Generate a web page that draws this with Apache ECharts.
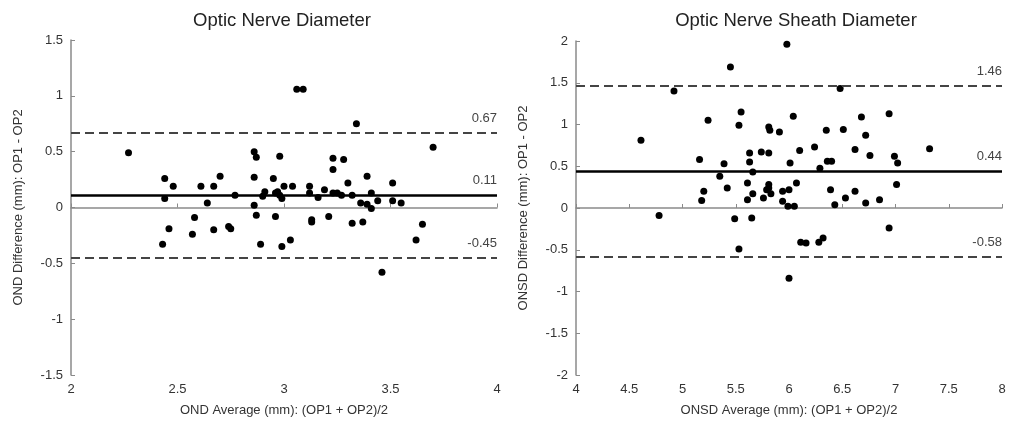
<!DOCTYPE html>
<html>
<head>
<meta charset="utf-8">
<script src="https://cdn.jsdelivr.net/npm/echarts@6/dist/echarts.min.js"></script>
<style>html,body{margin:0;padding:0;background:#fff}#c{width:1011px;height:428px}</style>
</head>
<body>
<div id="c"></div>
<script>
var titles = ['Optic Nerve Diameter', 'Optic Nerve Sheath Diameter'];
var xNames = ['OND Average (mm): (OP1 + OP2)/2', 'ONSD Average (mm): (OP1 + OP2)/2'];
var yNames = ['OND Difference (mm): OP1 - OP2', 'ONSD Difference (mm): OP1 - OP2'];

var ondAvg = [2.27,2.44,2.44,2.48,2.61,2.64,2.67,2.70,2.77,2.86,2.87,2.86,2.86,2.90,2.91,2.95,2.98,2.96,2.97,2.98,2.99,3.00,
  2.58,2.46,2.57,2.67,2.74,2.75,2.43,2.87,2.89,2.96,2.99,3.03,3.06,3.09,3.34,3.70,3.23,3.28,3.23,3.39,3.30,3.51,
  3.04,3.12,3.19,3.12,3.16,3.23,3.25,3.27,3.32,3.41,3.36,3.39,3.41,3.44,3.51,3.55,3.13,3.13,3.21,3.32,3.37,3.46,3.62,3.65];
var ondDiff = [0.49,0.26,0.08,0.19,0.19,0.04,0.19,0.28,0.11,0.50,0.45,0.27,0.02,0.10,0.14,0.26,0.46,0.13,0.14,0.11,0.08,0.19,
  -0.09,-0.19,-0.24,-0.20,-0.17,-0.19,-0.33,-0.07,-0.33,-0.08,-0.35,-0.29,1.06,1.06,0.75,0.54,0.44,0.43,0.34,0.28,0.22,0.22,
  0.19,0.19,0.16,0.13,0.09,0.13,0.13,0.11,0.11,0.13,0.04,0.03,-0.01,0.06,0.06,0.04,-0.11,-0.13,-0.08,-0.14,-0.13,-0.58,-0.29,-0.15];

var onsdAvg = [4.61,4.78,4.92,5.18,5.20,5.16,5.24,5.35,5.39,5.42,5.45,5.49,5.53,5.53,5.55,5.61,5.61,5.63,5.63,5.65,5.66,5.66,
  5.74,5.76,5.79,5.81,5.81,5.81,5.81,5.82,5.83,5.91,5.94,5.94,5.98,5.99,6.00,6.00,6.01,6.04,6.05,6.07,6.10,6.11,6.16,
  6.24,6.28,6.29,6.32,6.35,6.36,6.40,6.39,6.43,6.48,6.51,6.53,6.62,6.62,6.68,6.72,6.72,6.76,6.85,6.94,6.94,6.99,7.01,7.02,7.32];
var onsdDiff = [0.81,-0.09,1.40,0.09,0.20,0.58,1.05,0.38,0.53,0.24,1.69,-0.13,-0.49,0.99,1.15,0.30,0.10,0.66,0.55,-0.12,0.43,0.17,
  0.67,0.12,0.22,0.24,0.28,0.66,0.97,0.93,0.17,0.91,0.20,0.08,1.96,0.02,0.22,-0.84,0.54,1.10,0.02,0.30,0.69,-0.41,-0.42,
  0.73,-0.41,0.475,-0.36,0.93,0.56,0.56,0.22,0.04,1.43,0.94,0.12,0.70,0.20,1.09,0.87,0.06,0.63,0.10,1.13,-0.24,0.62,0.28,0.54,0.71];

var ondLines = [0.67, 0.11, -0.45];
var onsdLines = [1.46, 0.44, -0.58];

var xRanges = [[2, 4, 0.5], [4, 8, 0.5]];
var yRanges = [[-1.5, 1.5, 0.5], [-2, 2, 0.5]];

function pairs(xs, ys) { return xs.map(function (v, i) { return [v, ys[i]]; }); }

var FONT = 'Liberation Sans, Arial, sans-serif';
var axisGray = '#8a8a8a';
var textCol = '#333';

function xAxis(i) {
  return {
    type: 'value', gridIndex: i, min: xRanges[i][0], max: xRanges[i][1], interval: xRanges[i][2],
    name: xNames[i], nameLocation: 'middle', nameGap: 29,
    nameTextStyle: { fontFamily: FONT, fontSize: 13, color: textCol },
    axisLine: { show: true, lineStyle: { color: axisGray, width: 1.5 } },
    axisTick: { show: true, inside: true, length: 4, lineStyle: { color: axisGray } },
    axisLabel: { fontFamily: FONT, fontSize: 13, color: textCol, margin: 8 },
    splitLine: { show: false }
  };
}
function yAxis(i) {
  return {
    type: 'value', gridIndex: i, min: yRanges[i][0], max: yRanges[i][1], interval: yRanges[i][2],
    name: yNames[i], nameLocation: 'middle', nameGap: 46, nameRotate: 90,
    nameTextStyle: { fontFamily: FONT, fontSize: 13, color: textCol },
    axisLine: { show: true, lineStyle: { color: axisGray, width: 1.5 } },
    axisTick: { show: true, inside: true, length: 4, lineStyle: { color: axisGray } },
    axisLabel: { fontFamily: FONT, fontSize: 13, color: textCol, margin: 8 },
    splitLine: { show: false }
  };
}
function markLines(vals) {
  return {
    silent: true, symbol: 'none', animation: false,
    data: vals.map(function (v, k) {
      return {
        yAxis: v,
        lineStyle: k === 1 ? { color: '#000', width: 2.5, type: 'solid', opacity: 1 } : { color: '#444', width: 2, type: [9, 5], opacity: 1 },
        label: { show: true, position: 'insideEndTop', formatter: v.toFixed(2), distance: [0, 8],
          fontFamily: FONT, fontSize: 13, color: '#444' }
      };
    })
  };
}

var chart = echarts.init(document.getElementById('c'));
chart.setOption({
  animation: false,
  backgroundColor: '#fff',
  title: [
    { text: titles[0], left: 277, top: 6, textAlign: 'center', textStyle: { fontFamily: FONT, fontSize: 18.5, fontWeight: 'normal', color: '#222' } },
    { text: titles[1], left: 791, top: 6, textAlign: 'center', textStyle: { fontFamily: FONT, fontSize: 18.5, fontWeight: 'normal', color: '#222' } }
  ],
  grid: [
    { left: 71, right: 514, top: 40, bottom: 53 },
    { left: 576, right: 9, top: 41, bottom: 53 }
  ],
  xAxis: [xAxis(0), xAxis(1)],
  yAxis: [yAxis(0), yAxis(1)],
  series: [
    { type: 'scatter', xAxisIndex: 0, yAxisIndex: 0, data: pairs(ondAvg, ondDiff), symbolSize: 7,
      itemStyle: { color: '#000', opacity: 1 }, markLine: markLines(ondLines), z: 3 },
    { type: 'scatter', xAxisIndex: 1, yAxisIndex: 1, data: pairs(onsdAvg, onsdDiff), symbolSize: 7,
      itemStyle: { color: '#000', opacity: 1 }, markLine: markLines(onsdLines), z: 3 }
  ]
});
</script>
</body>
</html>
